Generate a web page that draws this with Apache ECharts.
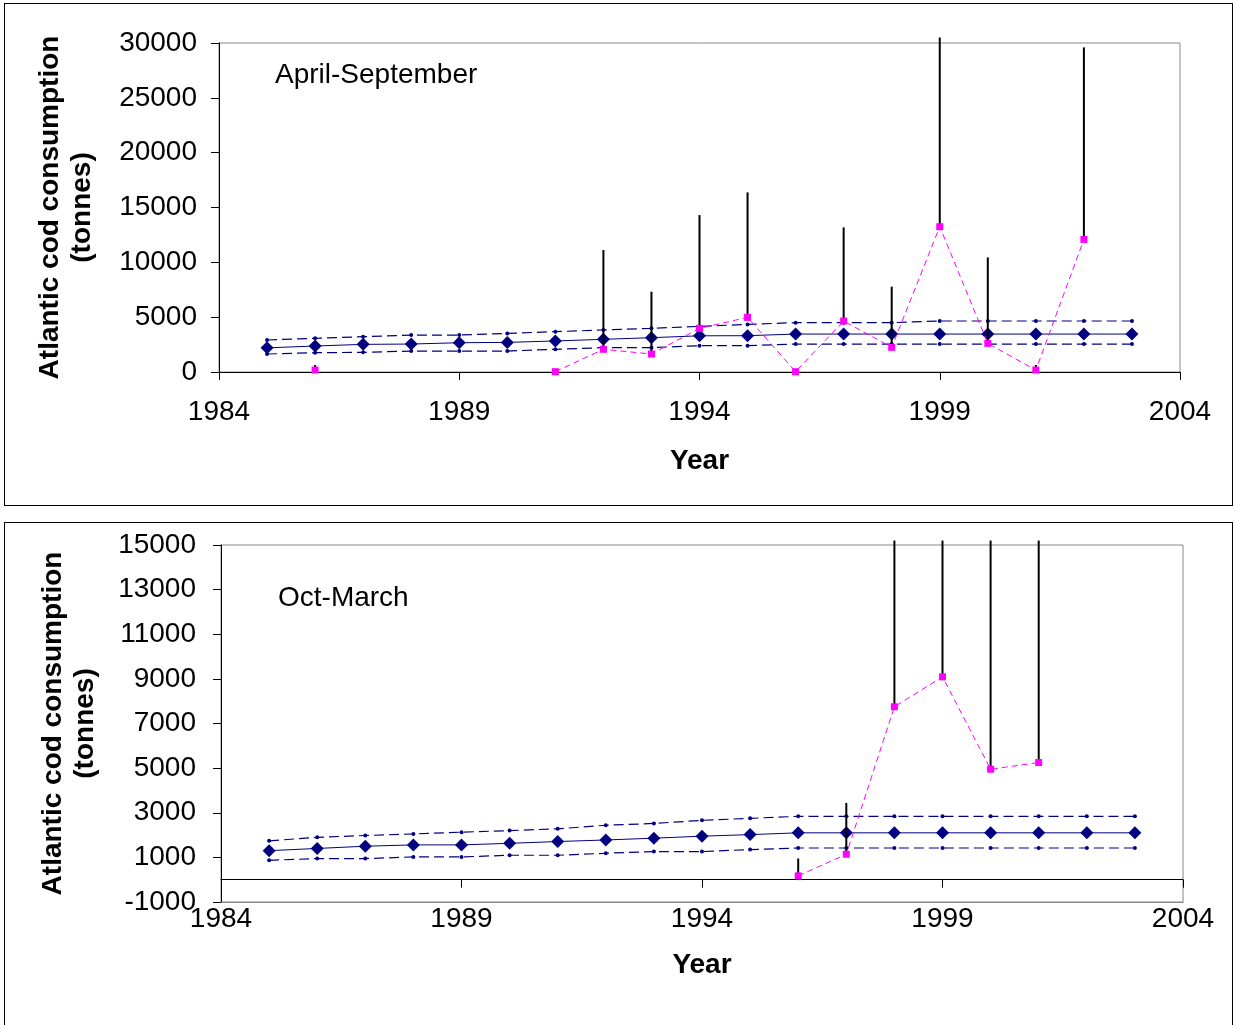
<!DOCTYPE html>
<html>
<head>
<meta charset="utf-8">
<script src="https://cdn.jsdelivr.net/npm/echarts@6/dist/echarts.min.js"></script>
<style>
  body { margin: 0; background: #fff; }
  .box { position: absolute; left: 4px; width: 1227px; border: 1px solid #000; background: #fff; }
  #aprChart { top: 3px; height: 501px; }
  #octChart { top: 522px; height: 520px; }
</style>
</head>
<body>
<div id="aprChart" class="box"></div>
<div id="octChart" class="box"></div>
<script>
const years = [1985, 1986, 1987, 1988, 1989, 1990, 1991, 1992, 1993, 1994, 1995, 1996, 1997, 1998, 1999, 2000, 2001, 2002, 2003]

// April-September
const aprMean = [2200, 2370, 2520, 2550, 2670, 2700, 2830, 2980, 3130, 3300, 3310, 3460, 3460, 3460, 3460, 3460, 3460, 3460, 3460]
const aprUpper = [2920, 3070, 3220, 3370, 3370, 3520, 3680, 3830, 3980, 4160, 4340, 4500, 4500, 4500, 4650, 4650, 4650, 4650, 4650]
const aprLower = [1640, 1760, 1790, 1910, 1910, 1910, 2070, 2220, 2220, 2400, 2400, 2550, 2550, 2550, 2550, 2550, 2550, 2550, 2550]
const aprEst = [null, 180, null, null, null, null, 30, 2070, 1640, 3980, 4980, 30, 4650, 2250, 13250, 2610, 180, 12090, null]
const aprHigh = [null, 640, null, null, null, null, null, 11120, 7320, 14310, 16380, null, 13190, 7780, 30500, 10450, 640, 29600, null]

// Oct-March
const octMean = [1300, 1400, 1500, 1560, 1560, 1630, 1710, 1780, 1860, 1950, 2020, 2100, 2100, 2100, 2100, 2100, 2100, 2100, 2100]
const octUpper = [1740, 1900, 1980, 2050, 2130, 2200, 2280, 2440, 2520, 2660, 2750, 2840, 2840, 2840, 2840, 2840, 2840, 2840, 2840]
const octLower = [870, 945, 945, 1020, 1020, 1095, 1095, 1185, 1260, 1260, 1350, 1420, 1420, 1420, 1420, 1420, 1420, 1420, 1420]
const octEst = [null, null, null, null, null, null, null, null, null, null, null, 170, 1140, 7750, 9090, 4950, 5250, null, null]
const octHigh = [null, null, null, null, null, null, null, null, null, null, null, 950, 3440, 15200, 15200, 15200, 15200, null, null]

const FONT = 'Liberation Sans, Arial, sans-serif'
const NAVY = '#000080'
const PINK = '#FF00FF'

function pairs(vals) {
  return years.map((y, i) => [y, vals[i]])
}

function errorData(est, high) {
  const out = []
  years.forEach((y, i) => {
    if (est[i] != null && high[i] != null) out.push([y, est[i], high[i]])
  })
  return out
}

function buildSeries(mean, upper, lower, est, high) {
  const dashed = (vals) => ({
    type: 'line',
    data: pairs(vals),
    symbol: 'circle',
    symbolSize: 4,
    itemStyle: { color: NAVY },
    lineStyle: { color: NAVY, width: 1.2, type: [10, 5] },
    animation: false,
    z: 2
  })
  return [
    dashed(upper),
    dashed(lower),
    {
      type: 'line',
      data: pairs(mean),
      symbol: 'diamond',
      symbolSize: 13,
      itemStyle: { color: NAVY },
      lineStyle: { color: NAVY, width: 1 },
      animation: false,
      z: 3
    },
    {
      // error bars: from estimate up to upper value
      type: 'custom',
      data: errorData(est, high),
      clip: false,
      z: 4,
      renderItem(params, api) {
        const lo = api.coord([api.value(0), api.value(1)])
        const hi = api.coord([api.value(0), api.value(2)])
        return {
          type: 'line',
          shape: { x1: lo[0], y1: lo[1], x2: hi[0], y2: hi[1] },
          style: { stroke: '#000', lineWidth: 2 }
        }
      },
      animation: false
    },
    {
      type: 'line',
      data: pairs(est),
      connectNulls: false,
      symbol: 'rect',
      symbolSize: 7,
      itemStyle: { color: PINK },
      lineStyle: { color: PINK, width: 1, type: [6, 4] },
      animation: false,
      z: 5
    }
  ]
}

const yName = 'Atlantic cod consumption\n(tonnes)'
const nameStyle = { fontFamily: FONT, fontSize: 28, fontWeight: 'bold', color: '#000', lineHeight: 32 }
const labelStyle = { fontFamily: FONT, fontSize: 28, color: '#000', formatter: v => String(v) }

// top chart
const aprChart = echarts.init(document.getElementById('aprChart'))
aprChart.setOption({
  title: {
    text: 'April-September',
    left: 270,
    top: 57,
    padding: 0,
    textStyle: { fontFamily: FONT, fontSize: 28, fontWeight: 'normal', color: '#000' }
  },
  grid: { left: 214, right: 52, top: 39, bottom: 133, show: true, borderColor: '#888', borderWidth: 1 },
  xAxis: {
    type: 'value',
    min: 1984,
    max: 2004,
    interval: 5,
    name: 'Year',
    nameLocation: 'middle',
    nameGap: 73,
    nameTextStyle: nameStyle,
    axisLine: { lineStyle: { color: '#000', width: 1 } },
    axisTick: { inside: false, length: 8, lineStyle: { color: '#000' } },
    axisLabel: { ...labelStyle, margin: 26 },
    splitLine: { show: false }
  },
  yAxis: {
    type: 'value',
    min: 0,
    max: 30000,
    interval: 5000,
    name: yName,
    nameLocation: 'middle',
    nameGap: 121,
    nameTextStyle: nameStyle,
    axisLine: { show: true, lineStyle: { color: '#000', width: 1 } },
    axisTick: { show: true, length: 8, lineStyle: { color: '#000' } },
    axisLabel: { ...labelStyle, margin: 22 },
    splitLine: { show: false }
  },
  series: buildSeries(aprMean, aprUpper, aprLower, aprEst, aprHigh)
})

// bottom chart
const octChart = echarts.init(document.getElementById('octChart'))
octChart.setOption({
  title: {
    text: 'Oct-March',
    left: 273,
    top: 61,
    padding: 0,
    textStyle: { fontFamily: FONT, fontSize: 28, fontWeight: 'normal', color: '#000' }
  },
  grid: { left: 216, right: 49, top: 22, bottom: 141, show: true, borderColor: '#888', borderWidth: 1 },
  xAxis: [
    {
      // labels sit below the plot, at -1000
      type: 'value',
      position: 'bottom',
      min: 1984,
      max: 2004,
      interval: 5,
      name: 'Year',
      nameLocation: 'middle',
      nameGap: 47,
      nameTextStyle: nameStyle,
      axisLine: { onZero: false, lineStyle: { color: '#888', width: 1 } },
      axisTick: { show: false },
      axisLabel: { ...labelStyle, margin: 3 },
      splitLine: { show: false }
    },
    {
      // the axis line itself crosses at 0
      type: 'value',
      position: 'bottom',
      min: 1984,
      max: 2004,
      interval: 5,
      axisLine: { onZero: true, lineStyle: { color: '#000', width: 1 } },
      axisTick: { inside: false, length: 8, lineStyle: { color: '#000' } },
      axisLabel: { show: false },
      splitLine: { show: false }
    }
  ],
  yAxis: {
    type: 'value',
    min: -1000,
    max: 15000,
    interval: 2000,
    name: yName,
    nameLocation: 'middle',
    nameGap: 120,
    nameTextStyle: nameStyle,
    axisLine: { show: true, onZero: false, lineStyle: { color: '#000', width: 1 } },
    axisTick: { show: true, length: 8, lineStyle: { color: '#000' } },
    axisLabel: { ...labelStyle, margin: 25 },
    splitLine: { show: false }
  },
  series: buildSeries(octMean, octUpper, octLower, octEst, octHigh)
})
</script>
</body>
</html>
